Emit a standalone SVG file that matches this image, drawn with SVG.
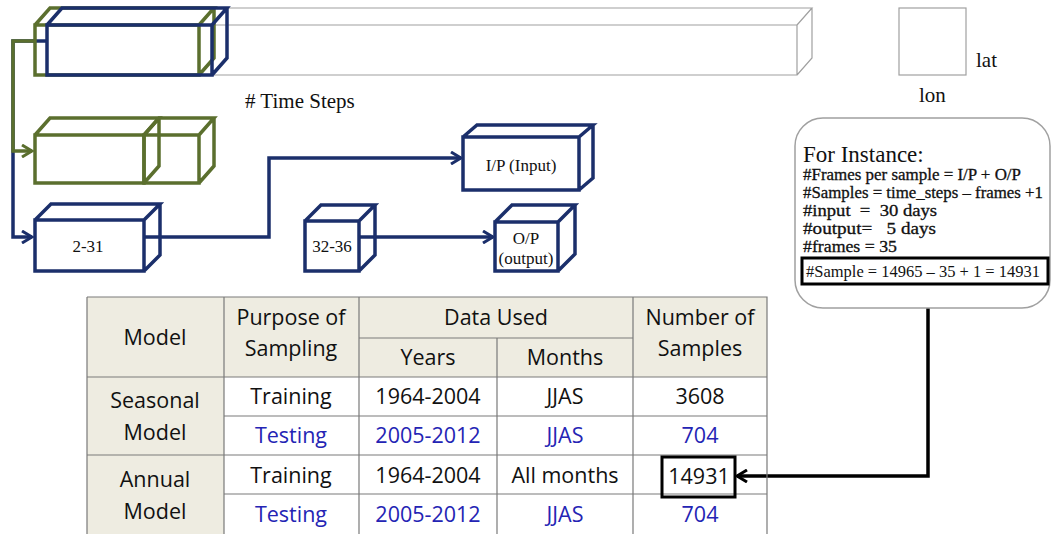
<svg xmlns="http://www.w3.org/2000/svg" width="1052" height="534" viewBox="0 0 1052 534">
<defs>
<style>
.nv{fill:none;stroke:#1b2f6b;stroke-width:3.5;stroke-linejoin:miter}
.gr{fill:none;stroke:#5b6f2e;stroke-width:3.5}
.gy{fill:none;stroke:#a0a0a0;stroke-width:1.2}
.ser{font-family:"Liberation Serif","Times New Roman",serif;fill:#111}
.eq{font-family:"Liberation Serif","Times New Roman",serif;fill:#111;font-size:16.5px;stroke:#111;stroke-width:0.3}
.tb{font-family:"Open Sans","Liberation Sans",sans-serif;font-size:21.5px;text-anchor:middle;fill:#111}
.bl{fill:#2424b4}
.grid{stroke:#7a7a7a;stroke-width:1.2;fill:none}
</style>
<marker id="an" viewBox="0 0 14 14" refX="12" refY="7" markerWidth="14" markerHeight="14" markerUnits="userSpaceOnUse" orient="auto"><path d="M2,1 L12,7 L2,13" fill="none" stroke="#1b2f6b" stroke-width="3"/></marker>
<marker id="ag" viewBox="0 0 14 14" refX="12" refY="7" markerWidth="14" markerHeight="14" markerUnits="userSpaceOnUse" orient="auto"><path d="M2,1 L12,7 L2,13" fill="none" stroke="#5b6f2e" stroke-width="3"/></marker>
<marker id="ak" viewBox="0 0 14 14" refX="12" refY="7" markerWidth="14" markerHeight="14" markerUnits="userSpaceOnUse" orient="auto"><path d="M2,1 L12,7 L2,13" fill="none" stroke="#000" stroke-width="3"/></marker>
</defs>
<rect width="1052" height="534" fill="#fff"/>

<g id="timeline">
<path class="gy" d="M47,25 H797 V75 H47 Z M47,25 L62,8 H812 L797,25 M812,8 V58 L797,75"/>
<text class="ser" x="245" y="108" font-size="21" xml:space="preserve"># Time Steps</text>
</g>

<g id="grid-cell">
<rect class="gy" x="899" y="8" width="67" height="67"/>
<text class="ser" x="976" y="67" font-size="21">lat</text>
<text class="ser" x="919" y="102" font-size="21">lon</text>
</g>

<g id="connectors">
<path class="nv" d="M47,41 H13 V237 H32" marker-end="url(#an)"/>
<path class="gr" d="M35,41 H13 V151 H32" marker-end="url(#ag)"/>
<path class="nv" d="M144,237 H269 V158 H461" marker-end="url(#an)"/>
<path class="nv" d="M359,237 H493" marker-end="url(#an)"/>
<path d="M928,283 V476 H737" fill="none" stroke="#000" stroke-width="3.5" marker-end="url(#ak)"/>
</g>

<g id="frame-green-1">
<path class="gr" d="M35,25 H199 V75 H35 Z M35,25 L50,8 H214 L199,25 M214,8 V58 L199,75"/>
</g>
<g id="frame-navy-1">
<path class="nv" d="M47,25 H212 V75 H47 Z M47,25 L62,8 H227 L212,25 M227,8 V58 L212,75"/>
</g>

<g id="frame-green-2">
<path class="gr" d="M35,135 H144 V183 H35 Z M35,135 L50,118 H159 L144,135 M159,118 V166 L144,183"/>
<path class="gr" d="M144,135 H199 V183 H144 Z M144,135 L159,118 H214 L199,135 M214,118 V166 L199,183"/>
</g>

<g id="box-2-31">
<path class="nv" d="M35,220 H144 V271 H35 Z M35,220 L51,204 H160 L144,220 M160,204 V255 L144,271"/>
<text class="ser" x="88" y="252" font-size="17" text-anchor="middle">2-31</text>
</g>

<g id="box-input">
<path class="nv" d="M463,137 H579 V190 H463 Z M463,137 L477,125 H593 L579,137 M593,125 V178 L579,190"/>
<text class="ser" x="521" y="171" font-size="17" text-anchor="middle">I/P (Input)</text>
</g>

<g id="box-32-36">
<path class="nv" d="M305,221 H359 V271 H305 Z M305,221 L321,205 H375 L359,221 M375,205 V255 L359,271"/>
<text class="ser" x="332" y="252" font-size="17" text-anchor="middle">32-36</text>
</g>

<g id="box-output">
<path class="nv" d="M495,222 H558 V271 H495 Z M495,222 L512,205 H575 L558,222 M575,205 V254 L558,271"/>
<text class="ser" x="526" y="244" font-size="17" text-anchor="middle">O/P</text>
<text class="ser" x="526" y="264" font-size="17" text-anchor="middle">(output)</text>
</g>

<g id="instance-box">
<rect x="795" y="118" width="255" height="190" rx="28" fill="#fff" stroke="#a0a0a0" stroke-width="1.5"/>
<text class="ser" x="803" y="162" font-size="23">For Instance:</text>
<text class="eq" x="803" y="180" textLength="218" lengthAdjust="spacingAndGlyphs">#Frames per sample = I/P + O/P</text>
<text class="eq" x="803" y="198" textLength="240" lengthAdjust="spacingAndGlyphs">#Samples = time_steps – frames +1</text>
<text class="eq" x="803" y="216" textLength="134" lengthAdjust="spacingAndGlyphs" xml:space="preserve">#input  =  30 days</text>
<text class="eq" x="803" y="234" textLength="133" lengthAdjust="spacingAndGlyphs" xml:space="preserve">#output=   5 days</text>
<text class="eq" x="803" y="252" textLength="94" lengthAdjust="spacingAndGlyphs">#frames = 35</text>
<rect x="802" y="258" width="246" height="26" fill="none" stroke="#000" stroke-width="3"/>
<text class="ser" x="806" y="277" font-size="17" textLength="234" lengthAdjust="spacingAndGlyphs">#Sample = 14965 – 35 + 1 = 14931</text>
</g>

<g id="table">
<rect x="87" y="297" width="680" height="80" fill="#eeece1"/>
<rect x="87" y="377" width="137" height="157" fill="#eeece1"/>
<path class="grid" d="M87,297 H767 V534 M87,297 V534 M224,297 V534 M359,297 V534 M633,297 V534 M497,338 V534 M359,338 H633 M87,377 H767 M224,416 H767 M87,455 H767 M224,494 H767"/>
<text class="tb" x="155" y="345">Model</text>
<text class="tb" x="291" y="325">Purpose of</text>
<text class="tb" x="291" y="356">Sampling</text>
<text class="tb" x="496" y="325">Data Used</text>
<text class="tb" x="428" y="365">Years</text>
<text class="tb" x="565" y="365">Months</text>
<text class="tb" x="700" y="325">Number of</text>
<text class="tb" x="700" y="356">Samples</text>
<text class="tb" x="155" y="408">Seasonal</text>
<text class="tb" x="155" y="440">Model</text>
<text class="tb" x="155" y="487">Annual</text>
<text class="tb" x="155" y="519">Model</text>
<text class="tb" x="291" y="404">Training</text>
<text class="tb" x="428" y="404">1964-2004</text>
<text class="tb" x="565" y="404">JJAS</text>
<text class="tb" x="700" y="404">3608</text>
<text class="tb bl" x="291" y="443">Testing</text>
<text class="tb bl" x="428" y="443">2005-2012</text>
<text class="tb bl" x="565" y="443">JJAS</text>
<text class="tb bl" x="700" y="443">704</text>
<text class="tb" x="291" y="483">Training</text>
<text class="tb" x="428" y="483">1964-2004</text>
<text class="tb" x="565" y="483">All months</text>
<rect x="662" y="457" width="73" height="40" fill="none" stroke="#000" stroke-width="3"/>
<text class="tb" x="699" y="484">14931</text>
<text class="tb bl" x="291" y="522">Testing</text>
<text class="tb bl" x="428" y="522">2005-2012</text>
<text class="tb bl" x="565" y="522">JJAS</text>
<text class="tb bl" x="700" y="522">704</text>
</g>
</svg>
